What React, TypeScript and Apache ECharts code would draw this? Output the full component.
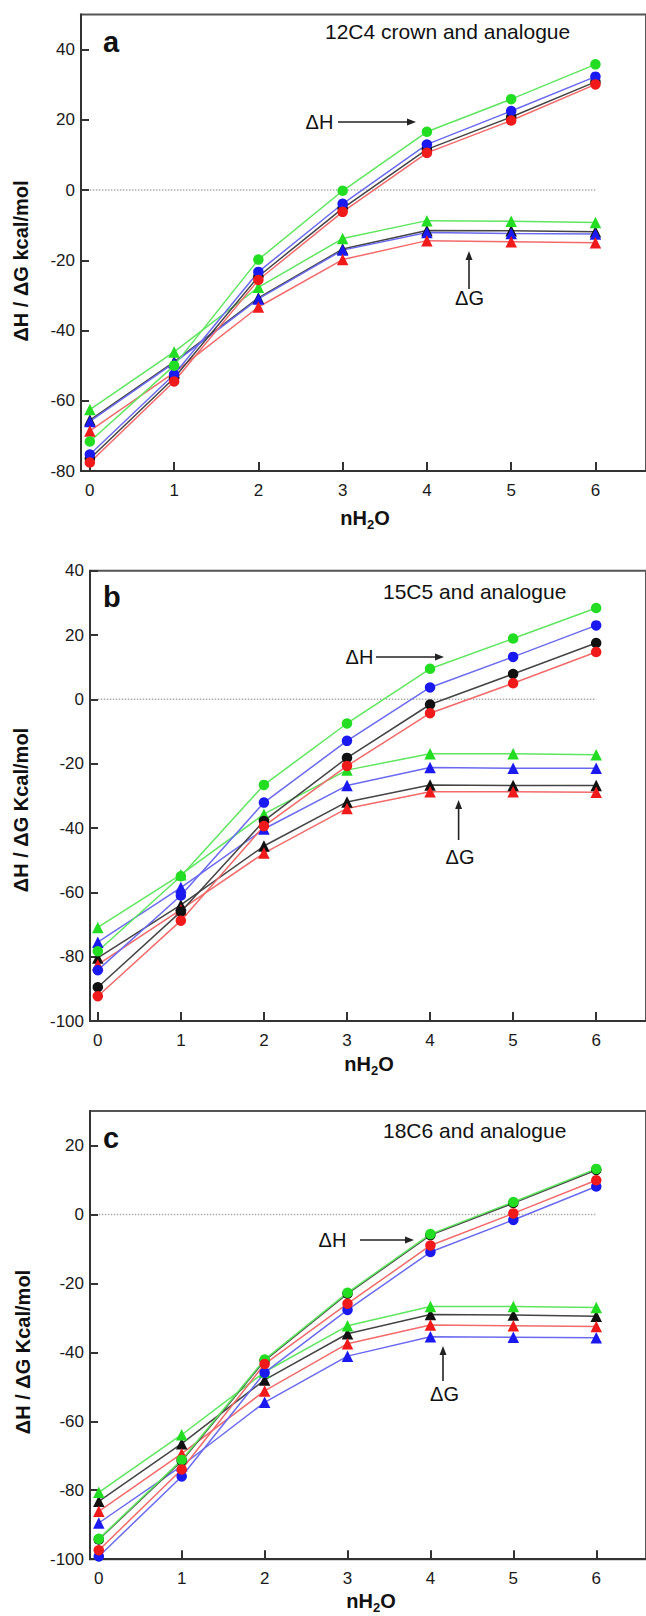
import React, { useEffect, useRef } from "react";
import * as echarts from "echarts";

// x values (number of water molecules)
const nH2O = [0, 1, 2, 3, 4, 5, 6];

// Panel a: 12C4 crown and analogue
const aH_black = [-76.5, -53.5, -24.6, -5.2, 11.6, 20.8, 30.8];
const aH_red = [-77.6, -54.5, -25.6, -6.2, 10.6, 19.8, 30.1];
const aH_green = [-71.6, -50, -19.8, -0.2, 16.6, 25.9, 35.8];
const aH_blue = [-75.3, -52.5, -23.3, -3.9, 13, 22.5, 32.3];
const aG_black = [-65.5, -48.9, -30.7, -16.8, -11.5, -11.6, -11.9];
const aG_red = [-68.6, -52, -33.3, -19.8, -14.4, -14.7, -15];
const aG_green = [-62.5, -46.1, -27.7, -13.8, -8.7, -8.9, -9.2];
const aG_blue = [-65.9, -49.2, -31, -17.1, -12.1, -12.4, -12.5];

// Panel b: 15C5 and analogue
const bH_black = [-89.5, -66, -37.8, -18.2, -1.6, 7.9, 17.5];
const bH_red = [-92.3, -68.8, -39.4, -20.7, -4.3, 5, 14.7];
const bH_green = [-78.3, -55, -26.6, -7.5, 9.5, 18.9, 28.4];
const bH_blue = [-84.2, -61, -32.1, -12.9, 3.7, 13.2, 23];
const bG_black = [-80.4, -63.9, -45.6, -31.9, -26.6, -26.8, -26.8];
const bG_red = [-82.5, -65.4, -47.8, -33.9, -28.7, -28.7, -28.9];
const bG_green = [-70.9, -54.5, -35.7, -22, -16.9, -16.9, -17.2];
const bG_blue = [-75.5, -58.5, -40.3, -26.8, -21.2, -21.4, -21.4];

// Panel c: 18C6 and analogue
const cH_black = [-94.3, -71.5, -42.4, -23, -6, 3.3, 12.9];
const cH_red = [-97.4, -74, -43.4, -25.9, -9, 0.3, 9.9];
const cH_green = [-94.1, -71.2, -42.1, -22.7, -5.7, 3.6, 13.2];
const cH_blue = [-99.2, -76, -45.9, -27.7, -10.9, -1.6, 8.1];
const cG_black = [-83.2, -66.5, -48, -34.6, -29, -29.2, -29.5];
const cG_red = [-86.1, -69.4, -51.2, -37.5, -32.1, -32.3, -32.5];
const cG_green = [-80.6, -63.9, -45.7, -32.3, -26.7, -26.7, -27];
const cG_blue = [-89.5, -72.9, -54.5, -41.1, -35.5, -35.6, -35.8];

const xTicks = [0, 1, 2, 3, 4, 5, 6];
const yTicksA = [-80, -60, -40, -20, 0, 20, 40];
const yTicksB = [-100, -80, -60, -40, -20, 0, 20, 40];
const yTicksC = [-100, -80, -60, -40, -20, 0, 20];

const titles = ["12C4 crown and analogue", "15C5 and analogue", "18C6 and analogue"];
const panelLetters = ["a", "b", "c"];
const yNames = ["ΔH / ΔG kcal/mol", "ΔH / ΔG Kcal/mol", "ΔH / ΔG Kcal/mol"];

const FONT = '"Liberation Sans", Arial, Helvetica, sans-serif';

const COLORS: Record<string, { mark: string; line: string }> = {
  black: { mark: "#111111", line: "#444444" },
  red: { mark: "#f01a1a", line: "#f26a6a" },
  green: { mark: "#22dd22", line: "#5fe65f" },
  blue: { mark: "#1a1af0", line: "#6a6af0" },
};

const panels = [
  {
    H: { black: aH_black, red: aH_red, blue: aH_blue, green: aH_green },
    G: { black: aG_black, red: aG_red, blue: aG_blue, green: aG_green },
  },
  {
    H: { black: bH_black, red: bH_red, blue: bH_blue, green: bH_green },
    G: { black: bG_black, red: bG_red, blue: bG_blue, green: bG_green },
  },
  {
    H: { black: cH_black, red: cH_red, blue: cH_blue, green: cH_green },
    G: { black: cG_black, red: cG_red, blue: cG_blue, green: cG_green },
  },
];

const pts = (arr: number[]) => arr.map((v, i) => [nH2O[i], v]);

export default function App() {
  const ref = useRef<HTMLDivElement>(null);
  useEffect(() => {
    document.body.style.margin = "0";
    const chart = echarts.init(ref.current!, null, { renderer: "svg" });

    const grids = [
      { left: 81, top: 14.5, width: 576.6, height: 456.5 },
      { left: 90, top: 570.7, width: 567.7, height: 450.3 },
      { left: 90, top: 1111, width: 567.8, height: 448.2 },
    ].map((g) => ({ ...g, show: true, borderColor: "#555", borderWidth: 2, containLabel: false }));

    const xMins = [-0.105, -0.094, -0.106];
    const yRanges = [
      [-80, 50, yTicksA],
      [-100, 40, yTicksB],
      [-100, 30, yTicksC],
    ] as [number, number, number[]][];

    const xAxis = xMins.map((mn, i) => ({
      type: "value",
      gridIndex: i,
      min: mn,
      max: 6.6,
      axisLine: { show: true, onZero: false, lineStyle: { color: "#333", width: 2 } },
      axisTick: { show: true, inside: true, length: 9, customValues: xTicks, lineStyle: { color: "#333", width: 2 } },
      axisLabel: { customValues: xTicks, margin: 11, fontSize: 17, fontFamily: FONT, color: "#1a1a1a" },
      splitLine: { show: false },
    }));

    const yAxis = yRanges.map(([mn, mx, ticks], i) => ({
      type: "value",
      gridIndex: i,
      min: mn,
      max: mx,
      axisLine: { show: true, onZero: false, lineStyle: { color: "#333", width: 2 } },
      axisTick: { show: true, inside: true, length: 8, customValues: ticks, lineStyle: { color: "#333", width: 2 } },
      axisLabel: { customValues: ticks, margin: 6, fontSize: 17, fontFamily: FONT, color: "#1a1a1a" },
      splitLine: { show: false },
    }));

    const series: any[] = [];
    panels.forEach((p, i) => {
      series.push({
        type: "line",
        xAxisIndex: i,
        yAxisIndex: i,
        data: [
          [0, 0],
          [6, 0],
        ],
        symbol: "none",
        lineStyle: { type: "dotted", color: "#aaaaaa", width: 1.5 },
        z: 1,
        silent: true,
      });
      (["G", "H"] as const).forEach((kind) => {
        (["black", "blue", "green", "red"] as const).forEach((c) => {
          series.push({
            type: "line",
            xAxisIndex: i,
            yAxisIndex: i,
            data: pts((p as any)[kind][c]),
            symbol: kind === "H" ? "circle" : "triangle",
            symbolSize: kind === "H" ? 10.5 : 11.5,
            itemStyle: { color: COLORS[c].mark, borderWidth: 0 },
            lineStyle: { color: COLORS[c].line, width: 1.5 },
            z: 3,
          });
        });
      });
    });

    const txt = (x: number, y: number, text: string, font: string, align = "center", extra: any = {}) => ({
      type: "text",
      x,
      y,
      z: 100,
      ...extra,
      style: { text, font, fill: "#111", align, verticalAlign: "middle" },
    });
    const hArrow = (x1: number, x2: number, y: number) => [
      { type: "line", z: 100, shape: { x1, y1: y, x2: x2 - 6, y2: y }, style: { stroke: "#222", lineWidth: 1.6 } },
      { type: "polygon", z: 100, shape: { points: [[x2, y], [x2 - 9, y - 3.5], [x2 - 9, y + 3.5]] }, style: { fill: "#222" } },
    ];
    const vArrow = (x: number, y1: number, y2: number) => [
      { type: "line", z: 100, shape: { x1: x, y1, x2: x, y2: y2 + 6 }, style: { stroke: "#222", lineWidth: 1.6 } },
      { type: "polygon", z: 100, shape: { points: [[x, y2], [x - 3.5, y2 + 9], [x + 3.5, y2 + 9]] }, style: { fill: "#222" } },
    ];

    const titlePos = [
      [325, 31],
      [383, 591],
      [383, 1130],
    ];
    const letterPos = [
      [103, 42],
      [103, 597],
      [103, 1138],
    ];
    const yNamePos = [
      [21, 261],
      [21, 810],
      [23, 1352],
    ];
    const xNamePos = [
      [365, 518],
      [369, 1064],
      [371, 1601],
    ];
    const dH = [
      [319.5, 122, 338, 416],
      [359.5, 657, 376, 444],
      [332.5, 1240, 360, 414],
    ];
    const dG = [
      [469.5, 298, 469, 289, 251],
      [460, 857, 458.6, 840, 800],
      [444.5, 1394, 443, 1381, 1346],
    ];

    const graphic: any[] = [];
    for (let i = 0; i < 3; i++) {
      graphic.push(txt(titlePos[i][0], titlePos[i][1], titles[i], `21px ${FONT}`, "left"));
      graphic.push(txt(letterPos[i][0], letterPos[i][1], panelLetters[i], `bold 29px ${FONT}`, "left"));
      graphic.push(
        txt(yNamePos[i][0], yNamePos[i][1], yNames[i], `bold 20px ${FONT}`, "center", { rotation: Math.PI / 2 })
      );
      graphic.push({
        type: "text",
        x: xNamePos[i][0],
        y: xNamePos[i][1],
        z: 100,
        style: {
          text: "{a|nH}{b|2}{a|O}",
          align: "center",
          verticalAlign: "middle",
          fill: "#111",
          rich: {
            a: { fontSize: 20, fontWeight: "bold", fontFamily: FONT, fill: "#111" },
            b: { fontSize: 13, fontWeight: "bold", fontFamily: FONT, fill: "#111", padding: [12, 0, 0, 0] },
          },
        },
      });
      graphic.push(txt(dH[i][0], dH[i][1], "ΔH", `20px ${FONT}`, "center"));
      graphic.push(...hArrow(dH[i][2], dH[i][3], dH[i][1]));
      graphic.push(txt(dG[i][0], dG[i][1], "ΔG", `20px ${FONT}`, "center"));
      graphic.push(...vArrow(dG[i][2], dG[i][3], dG[i][4]));
    }

    chart.setOption({
      animation: false,
      backgroundColor: "#ffffff",
      grid: grids,
      xAxis,
      yAxis,
      series,
      graphic,
    });
    return () => chart.dispose();
  }, []);
  return <div ref={ref} style={{ width: 646, height: 1616 }} />;
}
